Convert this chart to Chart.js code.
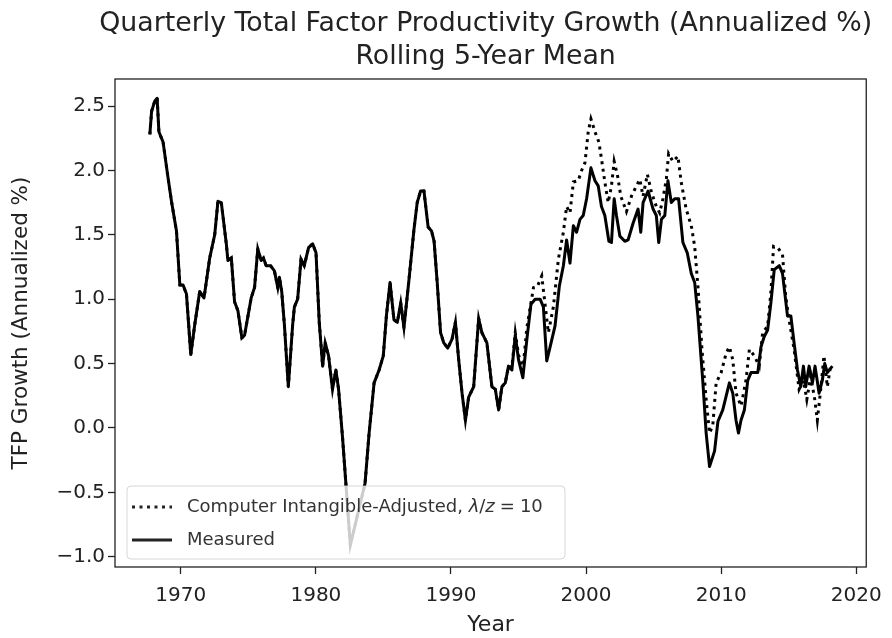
<!DOCTYPE html>
<html>
<head>
<meta charset="utf-8">
<script src="https://cdn.jsdelivr.net/npm/chart.js@4.4.0/dist/chart.umd.min.js"></script>
<style>
  html, body { margin: 0; padding: 0; background: #fff; }
  canvas { display: block; }
</style>
</head>
<body>
<canvas id="tfpChart" width="892" height="638"></canvas>
<script>
// Measured TFP growth, rolling 5-year mean
const measuredYears = [
  1967.71, 1967.84, 1968.08, 1968.25, 1968.38, 1968.69, 1969.06, 1969.31, 1969.68, 1969.93,
  1970.17, 1970.42, 1970.74, 1971.03, 1971.40, 1971.72, 1972.14, 1972.51, 1972.75, 1973.00,
  1973.37, 1973.49, 1973.74, 1973.98, 1974.23, 1974.52, 1974.72, 1975.21, 1975.46, 1975.70,
  1975.95, 1976.12, 1976.32, 1976.64, 1976.93, 1977.18, 1977.30, 1977.47, 1977.67, 1977.96,
  1978.28, 1978.41, 1978.65, 1978.90, 1979.14, 1979.46, 1979.76, 1980.01, 1980.25, 1980.50,
  1980.69, 1980.94, 1981.23, 1981.48, 1981.68, 1981.97, 1982.22, 1982.55, 1983.64, 1983.94,
  1984.31, 1984.68, 1984.99, 1985.22, 1985.49, 1985.78, 1986.03, 1986.28, 1986.52, 1986.89,
  1987.26, 1987.50, 1987.75, 1988.00, 1988.31, 1988.56, 1988.75, 1988.98, 1989.23, 1989.47,
  1989.76, 1990.08, 1990.33, 1990.57, 1990.82, 1991.07, 1991.31, 1991.68, 1992.05, 1992.29,
  1992.66, 1993.03, 1993.28, 1993.53, 1993.77, 1994.02, 1994.26, 1994.51, 1994.76, 1995.00,
  1995.32, 1995.62, 1995.92, 1996.23, 1996.60, 1996.84, 1997.09, 1997.34, 1997.70, 1998.02,
  1998.32, 1998.56, 1998.81, 1999.06, 1999.30, 1999.55, 1999.79, 2000.04, 2000.36, 2000.66,
  2000.90, 2001.14, 2001.39, 2001.69, 2001.88, 2002.08, 2002.25, 2002.50, 2002.87, 2003.11,
  2003.48, 2003.85, 2004.05, 2004.22, 2004.59, 2004.96, 2005.20, 2005.38, 2005.58, 2005.83,
  2006.06, 2006.31, 2006.56, 2006.85, 2007.17, 2007.49, 2007.79, 2008.04, 2008.28, 2008.65,
  2008.89, 2009.14, 2009.51, 2009.76, 2010.12, 2010.61, 2010.86, 2011.10, 2011.28, 2011.47,
  2011.72, 2011.97, 2012.21, 2012.71, 2012.95, 2013.19, 2013.44, 2013.68, 2013.93, 2014.30,
  2014.54, 2014.91, 2015.16, 2015.40, 2015.65, 2015.89, 2016.09, 2016.26, 2016.51, 2016.76,
  2016.95, 2017.25, 2017.49, 2017.67, 2017.86, 2018.23
];
const measuredValues = [
  2.28, 2.46, 2.54, 2.56, 2.30, 2.22, 1.94, 1.76, 1.53, 1.11,
  1.11, 1.04, 0.57, 0.80, 1.06, 1.01, 1.32, 1.50, 1.76, 1.75,
  1.43, 1.30, 1.32, 0.98, 0.91, 0.70, 0.72, 1.01, 1.09, 1.39,
  1.30, 1.32, 1.26, 1.26, 1.22, 1.09, 1.17, 1.06, 0.80, 0.32,
  0.80, 0.94, 1.00, 1.31, 1.26, 1.40, 1.43, 1.36, 0.82, 0.48,
  0.66, 0.56, 0.30, 0.45, 0.30, -0.07, -0.43, -0.91, -0.43, -0.04,
  0.35, 0.45, 0.56, 0.87, 1.13, 0.84, 0.82, 0.97, 0.78, 1.15,
  1.54, 1.75, 1.84, 1.84, 1.56, 1.53, 1.45, 1.13, 0.74, 0.66,
  0.62, 0.69, 0.82, 0.53, 0.27, 0.06, 0.24, 0.32, 0.85, 0.74,
  0.66, 0.32, 0.30, 0.14, 0.32, 0.35, 0.48, 0.45, 0.72, 0.53,
  0.39, 0.69, 0.96, 1.00, 1.00, 0.94, 0.52, 0.63, 0.79, 1.10,
  1.26, 1.46, 1.28, 1.57, 1.52, 1.62, 1.65, 1.78, 2.02, 1.92,
  1.88, 1.72, 1.65, 1.45, 1.44, 1.78, 1.65, 1.49, 1.45, 1.46,
  1.59, 1.70, 1.52, 1.75, 1.84, 1.70, 1.65, 1.44, 1.62, 1.65,
  1.92, 1.75, 1.78, 1.78, 1.44, 1.36, 1.20, 1.13, 0.87, 0.35,
  -0.04, -0.30, -0.18, 0.05, 0.14, 0.35, 0.27, 0.06, -0.04, 0.06,
  0.14, 0.37, 0.43, 0.43, 0.63, 0.71, 0.76, 0.97, 1.23, 1.26,
  1.20, 0.87, 0.87, 0.66, 0.45, 0.32, 0.48, 0.32, 0.48, 0.35,
  0.48, 0.27, 0.37, 0.50, 0.43, 0.48
];

// Adjusted series matches the measured one until the mid-1990s
const adjustedSplitYear = 1994.4;
const adjustedTailYears = [
  1994.51, 1994.76, 1995.00, 1995.32, 1995.62, 1996.11, 1996.40, 1996.72, 1997.21, 1997.58,
  1997.95, 1998.32, 1998.56, 1998.81, 1999.06, 1999.42, 1999.67, 1999.92, 2000.16, 2000.36,
  2000.66, 2000.95, 2001.14, 2001.39, 2001.64, 2001.88, 2002.08, 2002.33, 2002.57, 2002.99,
  2003.36, 2003.73, 2003.98, 2004.22, 2004.54, 2004.84, 2005.20, 2005.45, 2005.69, 2005.94,
  2006.11, 2006.43, 2006.80, 2007.04, 2007.41, 2007.79, 2008.04, 2008.28, 2008.58, 2008.89,
  2009.14, 2009.38, 2009.63, 2010.00, 2010.37, 2010.61, 2010.86, 2011.10, 2011.47, 2011.84,
  2012.09, 2012.46, 2012.82, 2013.07, 2013.44, 2013.68, 2013.88, 2014.18, 2014.54, 2014.78,
  2015.03, 2015.40, 2015.77, 2016.09, 2016.34, 2016.63, 2016.93, 2017.12, 2017.37, 2017.61,
  2017.86, 2018.10
];
const adjustedTailValues = [
  0.47, 0.74, 0.57, 0.45, 0.78, 1.09, 1.10, 1.18, 0.74, 0.94,
  1.31, 1.52, 1.72, 1.67, 1.91, 1.92, 2.00, 2.06, 2.30, 2.40,
  2.30, 2.22, 2.09, 1.91, 1.75, 1.88, 2.07, 1.96, 1.80, 1.68,
  1.80, 1.88, 1.93, 1.80, 1.97, 1.83, 1.72, 1.67, 1.78, 1.93,
  2.13, 2.07, 2.11, 1.91, 1.70, 1.57, 1.41, 1.10, 0.61, 0.22,
  -0.04, 0.02, 0.35, 0.43, 0.58, 0.63, 0.53, 0.27, 0.17, 0.37,
  0.61, 0.56, 0.48, 0.74, 0.79, 1.05, 1.41, 1.40, 1.35, 1.02,
  0.84, 0.61, 0.30, 0.37, 0.22, 0.40, 0.22, 0.06, 0.30, 0.56,
  0.32, 0.48
];

const titleLines = ['Quarterly Total Factor Productivity Growth (Annualized %)', 'Rolling 5-Year Mean'];
const legendLabels = ['Computer Intangible-Adjusted, ', 'Measured'];
const xTickStep = 10;
const yTickStep = 0.5;

const measuredPoints = measuredYears.map((x, i) => ({ x, y: measuredValues[i] }));
const adjustedPoints = measuredPoints.filter(p => p.x < adjustedSplitYear)
  .concat(adjustedTailYears.map((x, i) => ({ x, y: adjustedTailValues[i] })));

const FONT = 'DejaVu Sans';
const INK = '#222';

// two-line title, wider than the plot, so drawn without Chart.js' maxWidth squeeze
const wideTitle = {
  id: 'wideTitle',
  afterDraw(chart) {
    const c = chart.ctx, a = chart.chartArea;
    c.save();
    c.fillStyle = INK;
    c.font = '26.8px "' + FONT + '"';
    c.textAlign = 'center';
    c.textBaseline = 'alphabetic';
    const cx = (a.left + a.right) / 2 - 5;
    c.fillText(titleLines[0], cx, 31);
    c.fillText(titleLines[1], cx, 64);
    c.restore();
  }
};

// box around the axes + matplotlib-like legend inside the plot
const frameAndLegend = {
  id: 'frameAndLegend',
  afterDatasetsDraw(chart) {
    const c = chart.ctx, a = chart.chartArea;
    c.save();
    c.lineWidth = 1.3;
    c.strokeStyle = INK;
    c.strokeRect(a.left, a.top, a.right - a.left, a.bottom - a.top);

    const x = a.left + 12, y = a.bottom - 81, w = 438, h = 73, r = 4;
    c.beginPath();
    c.moveTo(x + r, y);
    c.arcTo(x + w, y, x + w, y + h, r);
    c.arcTo(x + w, y + h, x, y + h, r);
    c.arcTo(x, y + h, x, y, r);
    c.arcTo(x, y, x + w, y, r);
    c.closePath();
    c.fillStyle = 'rgba(255,255,255,0.8)';
    c.fill();
    c.lineWidth = 1;
    c.strokeStyle = 'rgba(204,204,204,0.8)';
    c.stroke();

    const rows = [y + 21, y + 54];
    // handles
    c.strokeStyle = INK;
    c.lineWidth = 3;
    c.lineCap = 'butt';
    c.setLineDash([3, 4.5]);
    c.beginPath(); c.moveTo(x + 5, rows[0]); c.lineTo(x + 45, rows[0]); c.stroke();
    c.setLineDash([]);
    c.beginPath(); c.moveTo(x + 5, rows[1]); c.lineTo(x + 45, rows[1]); c.stroke();

    // labels (math part spaced like mathtext)
    c.fillStyle = '#333';
    c.textBaseline = 'middle';
    c.textAlign = 'left';
    const parts = [[legendLabels[0], '', 0], ['\u03bb', 'italic ', 0], ['/', '', 0], ['z', 'italic ', 0],
                   ['=', '', 5], ['10', '', 5]];
    let tx = x + 60;
    parts.forEach(([s, style, gap]) => {
      c.font = style + '18px "' + FONT + '"';
      tx += gap;
      c.fillText(s, tx, rows[0]);
      tx += c.measureText(s).width;
    });
    c.font = '18px "' + FONT + '"';
    c.fillText(legendLabels[1], x + 60, rows[1]);
    c.restore();
  }
};

const ctx = document.getElementById('tfpChart').getContext('2d');
const tfpChart = new Chart(ctx, {
  type: 'line',
  data: {
    datasets: [
      {
        label: 'Measured',
        data: measuredPoints,
        borderColor: '#000',
        borderWidth: 3,
        borderJoinStyle: 'round',
        pointRadius: 0,
        tension: 0,
        order: 1
      },
      {
        label: 'Computer Intangible-Adjusted, \u03bb/z = 10',
        data: adjustedPoints,
        borderColor: '#000',
        borderWidth: 3,
        borderDash: [3, 4.5],
        pointRadius: 0,
        tension: 0,
        order: 2
      }
    ]
  },
  options: {
    responsive: false,
    animation: false,
    devicePixelRatio: 1,
    layout: { padding: { left: 0, right: 23, top: 79, bottom: 0 } },
    plugins: {
      legend: { display: false },
      tooltip: { enabled: false },
      title: { display: false }
    },
    scales: {
      x: {
        type: 'linear',
        min: 1965.13,
        max: 2020.74,
        afterFit: s => { s.height = 71; },
        border: { display: false },
        grid: { drawOnChartArea: false, tickLength: 7, tickColor: INK, tickWidth: 1.3 },
        ticks: {
          stepSize: xTickStep,
          includeBounds: false,
          padding: 10,
          color: INK,
          font: { family: FONT, size: 20 },
          callback: v => String(v)
        },
        title: {
          display: true,
          text: 'Year',
          color: INK,
          font: { family: FONT, size: 22 },
          padding: { top: 0, bottom: 0 }
        }
      },
      y: {
        min: -1.08,
        max: 2.71,
        afterFit: s => { s.width = 115; },
        border: { display: false },
        grid: { drawOnChartArea: false, tickLength: 7, tickColor: INK, tickWidth: 1.3 },
        ticks: {
          stepSize: yTickStep,
          includeBounds: false,
          padding: 3,
          color: INK,
          font: { family: FONT, size: 20 },
          callback: v => (v < 0 ? '\u2212' : '') + Math.abs(v).toFixed(1)
        },
        title: {
          display: true,
          text: 'TFP Growth (Annualized %)',
          color: INK,
          font: { family: FONT, size: 21.5 },
          padding: { top: 9, bottom: 0 }
        }
      }
    }
  },
  plugins: [frameAndLegend, wideTitle]
});
</script>
</body>
</html>
